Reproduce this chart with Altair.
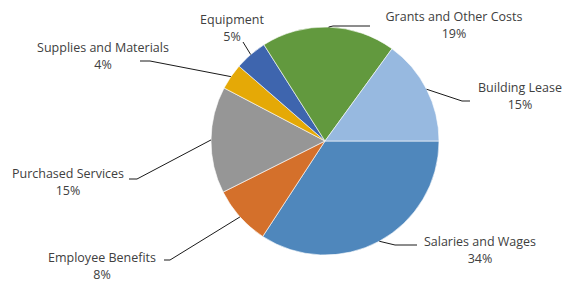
import math
import altair as alt
import pandas as pd

# ---- data ----
categories = ["Salaries and Wages", "Employee Benefits", "Purchased Services",
              "Supplies and Materials", "Equipment", "Grants and Other Costs",
              "Building Lease"]
values = [34.2, 8.4, 15.1, 3.7, 4.6, 19.0, 15.0]
colors = ["#4F87BC", "#D4702B", "#969696", "#E5A906", "#3E65AE", "#62993E", "#97B9E0"]

# ---- layout (pixels, relative to pie centre; y downward) ----
W, H = 555, 276
CX, CY = 317, 133
R = 114
# first-line label position, leader elbow, leader end
label_layout = {
    "Salaries and Wages":     ((155, 101), (70, 104), (92, 104)),
    "Employee Benefits":      ((-223, 117), (-155, 119), (-161, 119)),
    "Purchased Services":     ((-257, 33), (-188, 38), (-196, 38)),
    "Supplies and Materials": ((-222, -93), (-175, -80), (-185, -80)),
    "Equipment":              ((-93, -121), (-82, -99), (-82, -99)),
    "Grants and Other Costs": ((129, -124), (8, -115), (45, -115)),
    "Building Lease":         ((195, -53), (137, -40), (145, -40)),
}

total = sum(values)
pie_df = pd.DataFrame({"cat": categories, "value": values, "idx": range(len(categories))})

lines, labels = [], []
start = 90.0
for c, v in zip(categories, values):
    span = v / total * 360
    mid = math.radians(start + span / 2)
    start += span
    sx, sy = R * math.sin(mid), -R * math.cos(mid)
    (lx, ly), (ex, ey), (tx, ty) = label_layout[c]
    for k, (px, py) in enumerate([(sx, sy), (ex, ey), (tx, ty)]):
        lines.append({"cat": c, "k": k, "x": px, "y": py})
    labels.append({"cat": c, "x": lx, "y": ly,
                   "text": f"{c}\n{round(v / total * 100):d}%"})

line_df = pd.DataFrame(lines)
label_df = pd.DataFrame(labels)

xs = alt.Scale(domain=[-CX, W - CX], nice=False, zero=False)
ys = alt.Scale(domain=[-CY, H - CY], nice=False, zero=False, reverse=True)

pie = alt.Chart(pie_df).mark_arc(outerRadius=R, stroke="#ffffff", strokeWidth=0.6).encode(
    theta=alt.Theta("value:Q", stack=True,
                    scale=alt.Scale(range=[math.pi / 2, math.pi / 2 + 2 * math.pi])),
    color=alt.Color("cat:N", scale=alt.Scale(domain=categories, range=colors), legend=None),
    order=alt.Order("idx:Q"),
    x=alt.value(CX), y=alt.value(CY),
)

leaders = alt.Chart(line_df).mark_line(color="#1a1a1a", strokeWidth=1).encode(
    x=alt.X("x:Q", scale=xs, axis=None),
    y=alt.Y("y:Q", scale=ys, axis=None),
    detail="cat:N",
    order="k:Q",
)

text = alt.Chart(label_df).mark_text(
    lineBreak="\n", align="center", baseline="middle", lineHeight=17,
    font="Open Sans", fontSize=12.5, color="#404040",
).encode(
    x=alt.X("x:Q", scale=xs, axis=None),
    y=alt.Y("y:Q", scale=ys, axis=None),
    text="text:N",
)

chart = alt.layer(pie, leaders, text).properties(
    width=W, height=H, autosize="none", padding=0,
).configure_view(stroke=None)

chart.save("out.html", embed_options={"renderer": "svg", "actions": False})
